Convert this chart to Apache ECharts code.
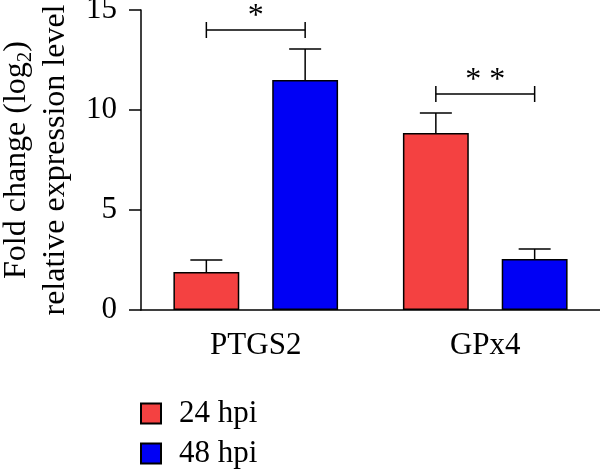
<!DOCTYPE html>
<html>
<head>
<meta charset="utf-8">
<script src="https://cdn.jsdelivr.net/npm/echarts@6/dist/echarts.min.js"></script>
<style>
html,body{margin:0;padding:0;background:#fff;}
#chart{width:600px;height:470px;}
</style>
</head>
<body>
<div id="chart"></div>
<script>
// 数据
var categories = ['PTGS2', 'GPx4'];
var hpi24 = [1.9, 8.85];
var hpi24Err = [0.6, 1.0];
var hpi48 = [11.5, 2.55];
var hpi48Err = [1.55, 0.5];
// 显著性标记
var sigLevel = [14, 10.8];
var sigLabel = ['*', '* *'];
var yTicks = [0, 5, 10, 15];

var FONT = 'Liberation Serif';
var BAR_FRAC = 0.287;   // 柱宽占类目宽度
var GAP = 0.5;          // 柱间距 / 柱宽

function barOffset(api) {
    var band = api.size([1, 0])[0];
    var bw = band * BAR_FRAC;
    return bw * (0.5 + GAP / 2);
}

function makeErr(vals, errs) {
    var out = [];
    for (var i = 0; i < vals.length; i++) {
        out.push([i, vals[i], errs[i]]);
    }
    return out;
}

function errRender(sign) {
    return function (params, api) {
        var i = api.value(0);
        var v = api.value(1);
        var e = api.value(2);
        var off = sign * barOffset(api);
        var p0 = api.coord([i, v]);
        var p1 = api.coord([i, v + e]);
        var x = p0[0] + off;
        var style = {stroke: '#000', lineWidth: 1.5};
        return {
            type: 'group',
            children: [
                {type: 'line', shape: {x1: x, y1: p0[1], x2: x, y2: p1[1]}, style: style},
                {type: 'line', shape: {x1: x - 16, y1: p1[1], x2: x + 16, y2: p1[1]}, style: style}
            ]
        };
    };
}

// 每个图例单独一个组件, 竖排
function makeLegend(name, top) {
    return {
        data: [name],
        left: 140,
        top: top,
        padding: 0,
        icon: 'rect',
        itemWidth: 20,
        itemHeight: 20,
        textStyle: {fontFamily: FONT, fontSize: 31, color: '#000', padding: [0, 0, 0, 13]}
    };
}

var sigData = [];
for (var i = 0; i < sigLevel.length; i++) {
    sigData.push([i, sigLevel[i]]);
}

var container = echarts.init(document.getElementById('chart'));
var option = {
    animation: false,
    backgroundColor: '#fff',
    textStyle: {fontFamily: FONT},
    grid: {left: 141, right: 0, top: 10, bottom: 160, containLabel: false, outerBoundsMode: 'none'},
    legend: [makeLegend('24 hpi', 398), makeLegend('48 hpi', 438)],
    xAxis: {
        type: 'category',
        data: categories,
        axisLine: {lineStyle: {color: '#000', width: 1.5}},
        axisTick: {alignWithLabel: true, length: 11, lineStyle: {color: '#000', width: 1.5}},
        axisLabel: {color: '#000', fontFamily: FONT, fontSize: 31, margin: 20}
    },
    yAxis: {
        type: 'value',
        min: 0,
        max: 15,
        interval: 5,
        name: '{a|Fold change (log}{s|2}{a|)}\n{a|relative expression level}',
        nameLocation: 'middle',
        nameGap: 64,
        nameTextStyle: {
            color: '#000',
            fontFamily: FONT,
            fontSize: 32,
            lineHeight: 39,
            rich: {
                a: {fontFamily: FONT, fontSize: 32, color: '#000', lineHeight: 39},
                s: {fontFamily: FONT, fontSize: 21, color: '#000', verticalAlign: 'bottom', padding: [14, 0, 0, 0], lineHeight: 39}
            }
        },
        splitLine: {show: false},
        axisLine: {show: true, lineStyle: {color: '#000', width: 1.5}},
        axisTick: {show: true, length: 12, lineStyle: {color: '#000', width: 1.5}},
        axisLabel: {color: '#000', fontFamily: FONT, fontSize: 31, margin: 24}
    },
    series: [
        {
            name: '24 hpi',
            type: 'bar',
            data: hpi24,
            barWidth: (BAR_FRAC * 100) + '%',
            barGap: (GAP * 100) + '%',
            itemStyle: {color: '#F44141', borderColor: '#000', borderWidth: 1.5}
        },
        {
            name: '48 hpi',
            type: 'bar',
            data: hpi48,
            barWidth: (BAR_FRAC * 100) + '%',
            barGap: (GAP * 100) + '%',
            itemStyle: {color: '#0000F5', borderColor: '#000', borderWidth: 1.5}
        },
        {
            type: 'custom',
            renderItem: errRender(-1),
            data: makeErr(hpi24, hpi24Err),
            z: 5
        },
        {
            type: 'custom',
            renderItem: errRender(1),
            data: makeErr(hpi48, hpi48Err),
            z: 5
        },
        {
            type: 'custom',
            data: sigData,
            z: 5,
            renderItem: function (params, api) {
                var i = api.value(0);
                var p = api.coord([i, api.value(1)]);
                var off = barOffset(api);
                var x1 = p[0] - off, x2 = p[0] + off, y = p[1];
                var style = {stroke: '#000', lineWidth: 1.5};
                return {
                    type: 'group',
                    children: [
                        {type: 'line', shape: {x1: x1, y1: y, x2: x2, y2: y}, style: style},
                        {type: 'line', shape: {x1: x1, y1: y - 8, x2: x1, y2: y + 8}, style: style},
                        {type: 'line', shape: {x1: x2, y1: y - 8, x2: x2, y2: y + 8}, style: style},
                        {
                            type: 'text',
                            x: p[0],
                            y: y + 3,
                            style: {
                                text: sigLabel[params.dataIndex],
                                fill: '#000',
                                font: '32px ' + FONT,
                                textAlign: 'center',
                                textVerticalAlign: 'bottom'
                            }
                        }
                    ]
                };
            }
        }
    ]
};
container.setOption(option);
</script>
</body>
</html>
